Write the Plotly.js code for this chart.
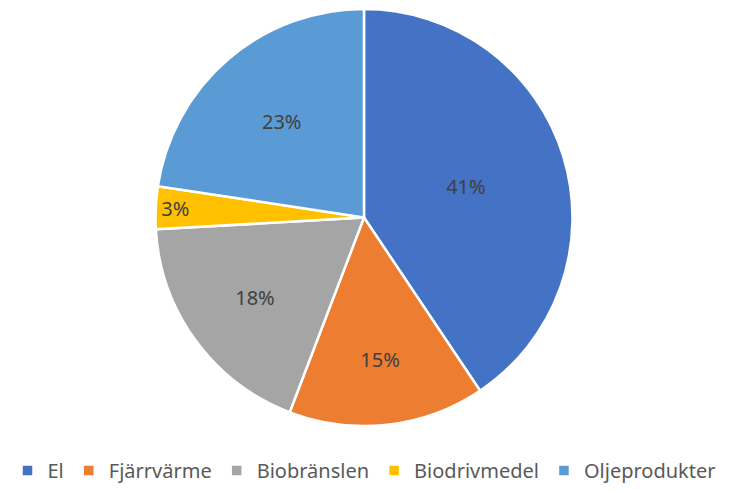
<!DOCTYPE html>
<html>
<head>
<meta charset="utf-8">
<script src="https://cdn.plot.ly/plotly-3.0.1.min.js"></script>
<style>html,body{margin:0;padding:0;background:#fff;}#chart{width:729px;height:490px;}</style>
</head>
<body>
<div id="chart"></div>
<script>
const categories = ["El", "Fjärrvärme", "Biobränslen", "Biodrivmedel", "Oljeprodukter"];
const shares = [40.6, 15.2, 18.3, 3.3, 22.6];
const colors = ["#4472C4", "#ED7D31", "#A5A5A5", "#FFC000", "#5B9BD5"];

const trace = {
  type: "pie",
  labels: categories,
  values: shares,
  sort: false,
  direction: "clockwise",
  rotation: 0,
  marker: {colors: colors, line: {color: "#ffffff", width: 2.5}},
  texttemplate: "%{percent:.0%}",
  textposition: "inside",
  insidetextorientation: "horizontal",
  textfont: {family: "Noto Sans, sans-serif", size: 20, color: "#404040"},
  hoverinfo: "label+percent",
  domain: {x: [0.2126, 0.7860], y: [0.1306, 0.9816]}
};

const layout = {
  width: 729, height: 490,
  margin: {l: 0, r: 0, t: 0, b: 0},
  paper_bgcolor: "#ffffff",
  showlegend: true,
  legend: {
    orientation: "h",
    x: 0.5, xanchor: "center",
    y: 0, yanchor: "bottom",
    font: {family: "Noto Sans, sans-serif", size: 20, color: "#595959"},
    itemwidth: 30
  }
};

Plotly.newPlot("chart", [trace], layout, {displayModeBar: false, staticPlot: true});
</script>
</body>
</html>
